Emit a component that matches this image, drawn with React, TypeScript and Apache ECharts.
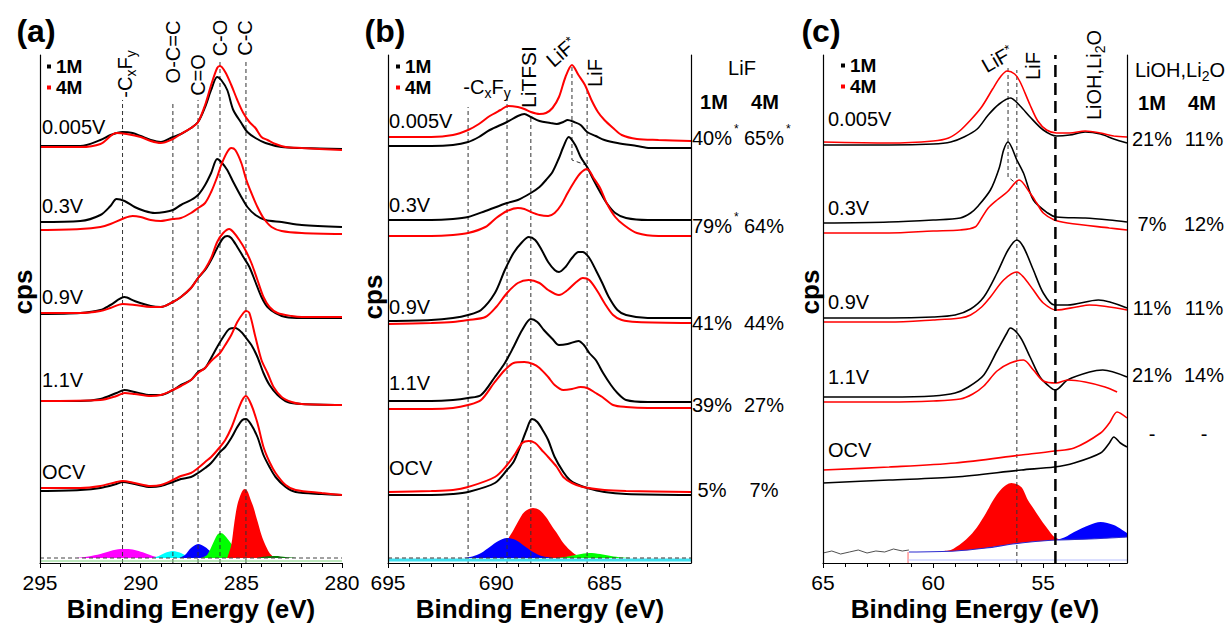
import React, { useEffect, useRef } from 'react';
import * as echarts from 'echarts';

const FONT = "'Liberation Sans', Arial, Helvetica, sans-serif";
type P = [number, number][];

// ---------------- panel (a): C 1s ----------------
const A_MIN = 280, A_MAX = 295;
const A_TICKS = [280, 285, 290, 295];
const A_MINOR = [281, 282, 283, 284, 285, 286, 287, 288, 289, 290, 291, 292, 293, 294];
const A_VOLTS = ['0.005V', '0.3V', '0.9V', '1.1V', 'OCV'];

const A_1M_0005: P = [[295,417],[293,417],[292,423],[291.5,428],[290.9,431],[290.4,430],[290,427],[289.5,423],[289,421],[288.4,426],[288,429],[287.5,435],[287.15,441],[286.8,456],[286.5,473],[286.2,486],[286,483],[285.7,473],[285.4,453],[285,440],[284.7,431],[284.3,425],[283.8,420],[283,416],[282,415],[280,414]];
const A_4M_0005: P = [[295,416],[293,416],[292,419],[291.2,430],[290.7,429],[290,426],[289.5,422],[289,420],[288.4,424],[288,429],[287.5,435],[287.15,441],[286.8,458],[286.5,478],[286.2,495],[286.06,497],[285.8,491],[285.5,478],[285.2,463],[284.9,450],[284.6,441],[284.3,435],[284,426],[283.7,423],[283.3,419],[282.8,416],[282,415],[280,413]];
const A_1M_03: P = [[295,341],[293,342],[292,348],[291.5,357],[291.2,364],[290.8,362],[290.3,356],[289.8,352],[289.3,350],[288.8,351],[288.4,353],[288,358],[287.5,363],[287.15,368],[286.8,378],[286.5,390],[286.2,404],[286,401],[285.7,393],[285.4,381],[285,366],[284.7,356],[284.3,348],[283.8,343],[283,341],[282,338],[280,336]];
const A_4M_03: P = [[295,333],[293,334],[292,336],[291.5,339],[290.8,345],[290.4,347],[290,346],[289.5,343],[289,342],[288.4,344],[288,345],[287.5,350],[287.15,355],[286.8,360],[286.5,371],[286.2,386],[286,398],[285.7,411],[285.5,415],[285.3,413],[285,400],[284.75,383],[284.5,370],[284.2,356],[283.9,345],[283.5,336],[283,332],[282,330],[280,329]];
const A_1M_09: P = [[295,249],[293,250],[292,253],[291.5,258],[290.8,266],[290.3,262],[289.5,257],[289,256],[288.4,261],[288,266],[287.5,275],[287.15,285],[286.8,293],[286.5,303],[286.2,315],[285.9,325],[285.7,327],[285.5,325],[285.2,316],[284.9,306],[284.6,296],[284.3,281],[284,266],[283.7,256],[283.3,250],[282.8,246],[282,245],[280,245]];
const A_4M_09: P = [[295,250],[293,250],[292,252],[291.5,255],[290.9,259],[290.3,258],[289.5,256],[289,256],[288.4,261],[288,266],[287.5,275],[287.15,285],[286.8,294],[286.5,305],[286.2,321],[285.9,330],[285.6,334],[285.4,331],[285.1,323],[284.8,313],[284.5,300],[284.2,283],[283.9,266],[283.6,256],[283.2,250],[282.5,247],[282,246],[280,246]];
const A_1M_11: P = [[295,162],[293,162],[292,164],[291.2,170],[290.8,173],[290.3,171],[289.5,168],[289,168],[288.4,173],[288,178],[287.5,183],[287.15,191],[286.8,195],[286.5,205],[286.2,216],[285.9,226],[285.6,234],[285.3,235],[285,231],[284.8,226],[284.5,218],[284.2,206],[283.9,190],[283.6,178],[283.2,168],[282.7,161],[282,159],[280,158]];
const A_4M_11: P = [[295,162],[292,163],[291.2,167],[290.8,170],[290.3,169],[289.5,167],[289,168],[288.4,173],[288,177],[287.5,183],[287.15,190],[286.8,195],[286.5,202],[286.06,210],[285.8,218],[285.5,228],[285.2,241],[284.9,250],[284.77,252],[284.6,250],[284.3,226],[284,203],[283.7,190],[283.4,176],[283,166],[282.5,161],[282,159],[280,158]];
const A_1M_OCV: P = [[295,72],[293,73],[292,75],[291.2,79],[290.9,81],[290.3,79],[289.5,76],[289,77],[288.4,81],[288,84],[287.5,86],[287.15,90],[286.8,95],[286.5,100],[286.06,111],[285.8,116],[285.5,125],[285.2,136],[284.95,143],[284.77,144],[284.5,138],[284.2,126],[283.9,108],[283.6,96],[283.3,86],[282.8,76],[282.3,71],[281,69],[280,68]];
const A_4M_OCV: P = [[295,75],[293,75],[292,77],[291.2,81],[290.9,82],[290.3,80],[289.5,77],[289,78],[288.4,83],[288,87],[287.5,90],[287.15,95],[286.8,101],[286.5,106],[286.06,116],[285.8,123],[285.5,135],[285.2,151],[284.95,163],[284.77,167],[284.5,158],[284.2,140],[283.9,116],[283.6,101],[283.3,90],[282.8,78],[282.3,73],[281,70],[280,68]];

const A_FIT_CXFY: P = [[293.2,5],[292.6,6.5],[292,9],[291.5,12],[291,14],[290.6,14],[290.2,12.5],[289.8,10],[289.4,7],[289,5.5],[288.6,5]];
const A_FIT_OCC: P = [[289.4,5],[289.1,7],[288.8,10],[288.4,12],[288,10],[287.7,7],[287.3,5]];
const A_FIT_CEO: P = [[288.1,5],[287.8,8],[287.5,15],[287.15,19],[286.8,16],[286.5,11],[286.2,7],[285.9,5]];
const A_FIT_CO: P = [[287,5],[286.7,8],[286.4,20],[286.2,28],[286.06,30],[285.9,29],[285.6,22],[285.3,14],[285,9],[284.6,6],[284.2,5]];
const A_FIT_CC: P = [[285.7,5],[285.5,18],[285.35,40],[285.2,58],[285,70],[284.85,74],[284.7,72],[284.55,64],[284.4,56],[284.2,42],[284,28],[283.85,20],[283.6,10],[283.35,5]];
const A_FIT_X: P = [[284.2,5],[283.8,6.5],[283.3,7],[282.8,6],[282.2,5]];
const A_BASE: P = [[295,5],[280,5]];
const A_LOW: P = [[295,2],[280,2]];
const A_REF_EV = [290.9, 288.4, 287.15, 286.06, 284.77];
const A_REF_TOP = [463, 461, 463, 501, 501];

// ---------------- panel (b): F 1s ----------------
const B_MIN = 681, B_MAX = 695;
const B_TICKS = [685, 690, 695];
const B_MINOR = [682, 683, 684, 685, 686, 687, 688, 689, 690, 691, 692, 693, 694];
const B_1M_0005: P = [[695,417],[693,417],[692,418],[691.3,421],[690.8,426],[690.3,433],[689.5,441],[689,447],[688.7,449],[688.4,446],[688,442],[687.5,440],[687.2,439],[686.9,441],[686.7,443],[686.4,441],[686.1,438],[685.8,431],[685.4,427],[685,423],[684.4,420],[683.5,417],[682.9,415],[681,415]];
const B_4M_0005: P = [[695,426],[693,426],[692,428],[691.3,433],[690.8,439],[690.3,447],[689.8,453],[689.45,457],[689,456],[688.7,454],[688.4,451],[688,449],[687.7,450],[687.4,455],[687.1,466],[686.8,486],[686.5,498],[686.2,488],[685.9,478],[685.6,463],[685.3,451],[685,443],[684.6,435],[684.2,428],[683.5,424],[682.5,423],[681,422]];
const B_1M_03: P = [[695,343],[693,343],[692,344],[691.3,346],[690.5,352],[689.5,360],[689,363],[688.4,370],[688,376],[687.7,383],[687.4,391],[687.1,405],[686.9,416],[686.65,426],[686.35,418],[686.1,406],[685.8,396],[685.5,383],[685.2,371],[684.9,360],[684.5,350],[684,345],[683,343],[681,343]];
const B_4M_03: P = [[695,327],[693,327],[692,328],[691.3,330],[690.5,336],[690,345],[689.5,352],[689,355],[688.7,354],[688.4,351],[688,348],[687.6,347],[687.3,350],[687,358],[686.7,370],[686.4,381],[686.1,390],[685.8,394],[685.5,385],[685.2,375],[684.9,360],[684.5,346],[684.1,338],[683.5,330],[682.5,327],[681,327]];
const B_1M_09: P = [[695,242],[693,243],[692,245],[691.3,248],[690.7,253],[690.06,270],[689.6,293],[689.2,310],[688.8,321],[688.5,326],[688.2,323],[687.9,313],[687.6,301],[687.3,293],[687.1,291],[686.8,296],[686.5,305],[686.2,311],[686,311],[685.7,305],[685.4,293],[685.1,280],[684.8,266],[684.4,253],[684,248],[683,245],[681,245]];
const B_4M_09: P = [[695,239],[693,240],[692,241],[691.3,243],[690.5,246],[690,256],[689.5,270],[689,280],[688.5,283],[688,280],[687.6,273],[687.1,268],[686.7,273],[686.3,281],[686,285],[685.7,283],[685.3,271],[685,260],[684.6,248],[684.2,243],[683.5,241],[681,240]];
const B_1M_11: P = [[695,162],[693,162],[692,163],[691.3,165],[690.7,168],[690.06,186],[689.6,200],[689.2,216],[688.8,233],[688.4,244],[688.1,241],[687.8,233],[687.4,224],[687.1,218],[686.7,219],[686.2,222],[685.95,218],[685.7,210],[685.4,203],[685.06,190],[684.7,178],[684.4,170],[684,163],[683,161],[681,161]];
const B_4M_11: P = [[695,154],[693,154],[692,155],[691.3,158],[690.7,163],[690.1,180],[689.6,193],[689.2,200],[688.7,201],[688.3,199],[688,195],[687.6,186],[687.3,178],[686.9,173],[686.5,174],[686.1,176],[685.8,175],[685.4,170],[685.1,166],[684.6,158],[684,156],[683,155],[681,155]];
const B_1M_OCV: P = [[695,68],[693,68],[692,69],[691.3,71],[690.06,80],[689.5,93],[689.2,101],[688.9,116],[688.6,133],[688.35,144],[688.1,141],[687.8,131],[687.6,123],[687.3,106],[686.9,91],[686.6,83],[686.3,79],[685.8,75],[685,71],[684,69],[681,68]];
const B_4M_OCV: P = [[695,71],[693,72],[692,73],[691.3,76],[690.06,86],[689.5,98],[689.1,110],[688.8,120],[688.5,122],[688.2,120],[687.9,113],[687.6,106],[687.2,96],[686.9,86],[686.5,80],[686,76],[685,73],[684,72],[681,71]];

const B_FIT_CXFY: P = [[691.5,5],[691.1,6.5],[690.7,10],[690.3,16],[689.9,22],[689.5,25],[689.1,23],[688.7,17],[688.3,11],[687.9,7],[687.4,5]];
const B_FIT_LITFSI: P = [[690,5],[689.7,12],[689.45,24],[689.2,33],[689,41],[688.7,51],[688.3,55],[688,53],[687.7,46],[687.4,36],[687.2,30],[686.9,20],[686.6,13],[686.3,8],[686,5]];
const B_FIT_LIF: P = [[687.2,5],[686.7,6.5],[686.2,8.5],[685.7,10],[685.2,9],[684.7,7],[684.2,5.5],[683.7,5]];
const B_BASE: P = [[695,5],[681,5]];
const B_CYAN: P = [[695,3],[681,3]];
const B_REF_EV = [691.3, 689.5, 688.4, 685.8];
const B_REF_TOP = [456, 466, 448, 475];
const B_LIFSTAR: P = [[686.5,496],[686.5,403],[685.85,398]];
const B_PCT_1M = ['40%', '79%', '41%', '39%', '5%'];
const B_PCT_4M = ['65%', '64%', '44%', '27%', '7%'];
const B_STAR_1M = [true, true, false, false, false];
const B_STAR_4M = [true, false, false, false, false];

// ---------------- panel (c): Li 1s ----------------
const C_MIN = 51.2, C_MAX = 65;
const C_TICKS = [55, 60, 65];
const C_MINOR = [52, 53, 54, 55, 56, 57, 58, 59, 60, 61, 62, 63, 64];
const C_1M_0005: P = [[65,418],[62,418],[60,419],[59.2,421],[58.6,426],[58,434],[57.5,448],[57,459],[56.5,465],[56.05,457],[55.6,446],[55,433],[54.4,427],[53.8,428],[53.1,431],[52.4,429],[51.8,424],[51.2,420]];
const C_4M_0005: P = [[65,421],[62,420],[60,422],[59.3,425],[58.8,432],[58.3,443],[57.8,456],[57.3,474],[56.95,486],[56.64,492],[56.3,489],[56.05,481],[55.6,458],[55.25,442],[54.85,433],[54.4,430],[53.8,430],[53.1,432],[52.4,430],[51.8,427],[51.2,426]];
const C_1M_03: P = [[65,340],[62,341],[60,343],[58.77,345],[58.3,350],[58,356],[57.4,373],[57,395],[56.8,413],[56.6,421],[56.2,403],[55.9,390],[55.45,363],[54.8,350],[54.4,346],[53.1,345],[52,343],[51.2,341]];
const C_4M_03: P = [[65,330],[62,330],[60,332],[58.77,333],[58.1,336],[57.8,345],[57.5,355],[57.1,363],[56.64,371],[56.1,383],[55.6,370],[55.3,360],[55,350],[54.5,343],[53.9,340],[52,335],[51.2,333]];
const C_1M_09: P = [[65,245],[62,245],[60,246],[59,248],[58.3,254],[57.7,266],[57.1,290],[56.6,313],[56.2,323],[55.9,316],[55.45,293],[55,270],[54.5,258],[53.9,258],[52.5,263],[51.2,255]];
const C_4M_09: P = [[65,241],[62,241],[60,243],[58.77,245],[58.3,248],[57.8,256],[57.4,266],[56.8,283],[56.2,291],[55.9,286],[55.45,273],[55,260],[54.4,253],[53.5,256],[52.9,258],[51.2,253]];
const C_1M_11: P = [[65,166],[62,166],[60,167],[59,170],[58.4,176],[57.7,188],[57.1,212],[56.65,230],[56.5,235],[56.05,226],[55.6,206],[55.15,186],[54.7,176],[54.45,173],[53.9,183],[52.9,191],[52.3,193],[51.2,186]];
const C_4M_11: P = [[65,161],[62,161],[60,162],[58.77,164],[58.2,169],[57.7,177],[57.1,192],[56.5,200],[55.9,203],[55.45,193],[55,182],[54.4,180],[53.9,183],[53.1,181],[52.2,176],[51.65,171]];
const C_1M_OCV: P = [[65,80],[62,83],[59,86],[56,93],[54.5,96],[53.6,100],[52.4,110],[52,120],[51.8,126],[51.5,120],[51.2,116]];
const C_4M_OCV: P = [[65,93],[62,96],[59,100],[56,108],[54.5,112],[53.6,115],[52.4,130],[52,140],[51.65,151],[51.2,145]];

const C_FIT_LIF: P = [[59.6,12],[59.2,13],[58.7,20],[58.3,28],[58,36],[57.6,50],[57.27,63],[56.9,74],[56.45,80],[56,76],[55.7,63],[55.4,53],[55.1,43],[54.8,34],[54.5,26],[54.2,23]];
const C_FIT_LIOH: P = [[54.4,23],[54,26],[53.6,31],[52.9,38],[52.4,41],[51.8,38],[51.2,30]];
const C_BG: P = [[61.1,11],[59,12],[57.6,15],[56.4,19],[55.6,21],[54.4,23],[52.9,24],[51.2,26]];
const C_RAW: P = [[65,10],[64.6,12],[64.2,9],[63.8,11],[63.4,13],[63,10],[62.6,12],[62.2,11],[61.8,14],[61.4,12],[61.1,13]];
const C_EDGE: P = [[61.14,0],[61.14,11]];
const C_LOW: P = [[61.14,3],[51.2,3]];
const C_LIF_EV = 56.2, C_LIF_TOP = 493;
const C_LIOH_EV = 54.45, C_LIOH_TOP = 508;
const C_LIFSTAR: P = [[56.6,495],[56.6,386],[56.2,379]];
const C_PCT_1M = ['21%', '7%', '11%', '21%', '-'];
const C_PCT_4M = ['11%', '12%', '11%', '14%', '-'];

const ROW_Y_B = [138, 226, 323, 405, 490];
const ROW_Y_C = [139, 224, 308, 375, 434];

function curve(name: string, data: P, color: string, xi: number, yi: number, width = 2): any {
  return { type: 'line', name, data, xAxisIndex: xi, yAxisIndex: yi, smooth: 0.3, symbol: 'none', silent: true, z: 4,
    lineStyle: { color, width }, itemStyle: { color } };
}
function fill(data: P, color: string, xi: number, yi: number, z = 2): any {
  return { type: 'line', data, xAxisIndex: xi, yAxisIndex: yi, smooth: 0.3, symbol: 'none', silent: true, z,
    lineStyle: { width: 0, color }, areaStyle: { color, opacity: 1 } };
}
function plain(data: P, color: string, xi: number, yi: number, width: number, type: any = 'solid', z = 5, smooth: any = false): any {
  return { type: 'line', data, xAxisIndex: xi, yAxisIndex: yi, smooth, symbol: 'none', silent: true, z, clip: false,
    lineStyle: { color, width, type } };
}

function buildSeries() {
  const s: any[] = [];
  // (a)
  s.push(fill(A_FIT_CXFY, '#ff00ff', 0, 0));
  s.push(fill(A_FIT_OCC, '#00ffff', 0, 0));
  s.push(fill(A_FIT_CEO, '#0000ff', 0, 0));
  s.push(fill(A_FIT_CO, '#00ff00', 0, 0));
  s.push(fill(A_FIT_CC, '#ff0000', 0, 0));
  s.push(fill(A_FIT_X, '#008000', 0, 0));
  s.push(fill(A_BASE, '#ffffff', 0, 0, 3));
  s.push(plain(A_BASE, '#444', 0, 0, 1, [4, 3], 5));
  s.push(plain(A_LOW, '#7ccf7c', 0, 0, 1.2, 'solid', 5));
  A_REF_EV.forEach((ev, i) => s.push(plain([[ev, 0], [ev, A_REF_TOP[i]]], '#333', 0, 0, 1, [4, 3], 3)));
  [A_1M_0005, A_1M_03, A_1M_09, A_1M_11, A_1M_OCV].forEach(d => s.push(curve('1M', d, '#000', 0, 0)));
  [A_4M_0005, A_4M_03, A_4M_09, A_4M_11, A_4M_OCV].forEach(d => s.push(curve('4M', d, '#ff0000', 0, 0)));
  // (b)
  s.push(fill(B_FIT_LITFSI, '#ff0000', 2, 1));
  s.push(fill(B_FIT_CXFY, '#0000ff', 2, 1));
  s.push(fill(B_FIT_LIF, '#00ff00', 2, 1));
  s.push(fill(B_BASE, '#ffffff', 2, 1, 3));
  s.push(plain(B_CYAN, '#40e0f0', 2, 1, 3, 'solid', 5));
  s.push(plain(B_BASE, '#333', 2, 1, 1, [4, 3], 5));
  B_REF_EV.forEach((ev, i) => s.push(plain([[ev, 0], [ev, B_REF_TOP[i]]], '#333', 2, 1, 1, [4, 3], 3)));
  s.push(plain(B_LIFSTAR, '#333', 2, 1, 1, [4, 3], 3));
  [B_1M_0005, B_1M_03, B_1M_09, B_1M_11, B_1M_OCV].forEach(d => s.push(curve('1M', d, '#000', 2, 1)));
  [B_4M_0005, B_4M_03, B_4M_09, B_4M_11, B_4M_OCV].forEach(d => s.push(curve('4M', d, '#ff0000', 2, 1)));
  // (c)
  s.push(fill(C_FIT_LIF, '#ff0000', 4, 3));
  s.push(fill(C_FIT_LIOH, '#0000ff', 4, 3));
  s.push(fill(C_BG, '#ffffff', 4, 3, 3));
  s.push(plain(C_BG, '#2a2ad0', 4, 3, 1.2, 'solid', 5, 0.3));
  s.push(plain(C_RAW, '#222', 4, 3, 0.8, 'solid', 5));
  s.push(plain(C_EDGE, '#ff6060', 4, 3, 1, 'solid', 5));
  s.push(plain(C_LOW, '#b8c0ff', 4, 3, 1.2, 'solid', 5));
  s.push(plain([[C_LIF_EV, 0], [C_LIF_EV, C_LIF_TOP]], '#333', 4, 3, 1, [4, 3], 3));
  s.push(plain(C_LIFSTAR, '#333', 4, 3, 1, [4, 3], 3));
  s.push(plain([[C_LIOH_EV, 0], [C_LIOH_EV, C_LIOH_TOP]], '#000', 4, 3, 2.5, [12, 6], 6));
  [C_1M_0005, C_1M_03, C_1M_09, C_1M_11, C_1M_OCV].forEach(d => s.push(curve('1M', d, '#000', 4, 3, 1.6)));
  [C_4M_0005, C_4M_03, C_4M_09, C_4M_11, C_4M_OCV].forEach(d => s.push(curve('4M', d, '#ff0000', 4, 3, 1.6)));
  return s;
}

const RICH = {
  n: { fontSize: 20, fontFamily: FONT, verticalAlign: 'top', lineHeight: 22, fill: '#000' },
  s: { fontSize: 14, fontFamily: FONT, verticalAlign: 'top', lineHeight: 16, padding: [9, 0, 0, 0], fill: '#000' },
  p: { fontSize: 13, fontFamily: FONT, verticalAlign: 'top', lineHeight: 14, fill: '#000' },
};

function T(x: number, y: number, text: string, o: any = {}): any {
  return {
    type: 'text', x, y, rotation: o.rot || 0, silent: true, z: 50,
    style: {
      text, fill: '#000', fontFamily: FONT, fontSize: o.size || 20, fontWeight: o.bold ? 'bold' : 'normal',
      align: o.align || 'left', verticalAlign: 'middle', rich: o.rich ? RICH : undefined,
    },
  };
}

function buildGraphic() {
  const g: any[] = [];
  const R = Math.PI / 2;
  // panel letters
  g.push(T(36, 31, '(a)', { bold: true, size: 32, align: 'center' }));
  g.push(T(385, 31, '(b)', { bold: true, size: 32, align: 'center' }));
  g.push(T(821, 31, '(c)', { bold: true, size: 32, align: 'center' }));
  // axis titles
  [191, 540, 975].forEach(x => g.push(T(x, 609, 'Binding Energy (eV)', { bold: true, size: 26, align: 'center' })));
  g.push(T(23, 292, 'cps', { bold: true, size: 26, align: 'center', rot: R }));
  g.push(T(373, 297, 'cps', { bold: true, size: 26, align: 'center', rot: R }));
  g.push(T(810, 292, 'cps', { bold: true, size: 26, align: 'center', rot: R }));
  // voltage labels
  const aY = [127, 206, 297, 380, 472];
  const bY = [121, 205, 307, 383, 468];
  const cY = [119, 208, 302, 377, 450];
  A_VOLTS.forEach((v, i) => {
    g.push(T(42, aY[i], v));
    g.push(T(389, bY[i], v));
    g.push(T(828, cY[i], v));
  });
  // (a) peak labels
  g.push(T(126, 74, '{n|-C}{s|x}{n|F}{s|y}', { rot: R, align: 'center', rich: true }));
  g.push(T(173, 52, 'O-C=C', { rot: R, align: 'center' }));
  g.push(T(198, 75, 'C=O', { rot: R, align: 'center' }));
  g.push(T(220, 38, 'C-O', { rot: R, align: 'center' }));
  g.push(T(245, 38, 'C-C', { rot: R, align: 'center' }));
  // (b) peak labels
  g.push(T(487, 88, '{n|-C}{s|x}{n|F}{s|y}', { align: 'center', rich: true }));
  g.push(T(528, 77, 'LiTFSI', { rot: R, align: 'center', size: 21 }));
  g.push(T(562, 53, '{n|LiF}{p|*}', { rot: 0.72, align: 'center', rich: true }));
  g.push(T(595, 73, 'LiF', { rot: R, align: 'center' }));
  // (b) table
  g.push(T(742, 68, 'LiF', { align: 'center' }));
  g.push(T(714, 102, '1M', { bold: true, align: 'center' }));
  g.push(T(765, 102, '4M', { bold: true, align: 'center' }));
  ROW_Y_B.forEach((y, i) => {
    g.push(T(712, y, B_PCT_1M[i], { align: 'center' }));
    g.push(T(764, y, B_PCT_4M[i], { align: 'center' }));
    if (B_STAR_1M[i]) g.push(T(734, y - 9, '*', { size: 12 }));
    if (B_STAR_4M[i]) g.push(T(786, y - 9, '*', { size: 12 }));
  });
  // (c) peak labels
  g.push(T(998, 60, '{n|LiF}{p|*}', { rot: 0.52, align: 'center', rich: true }));
  g.push(T(1033, 66, 'LiF', { rot: R, align: 'center' }));
  g.push(T(1095, 75, '{n|LiOH,Li}{s|2}{n|O}', { rot: R, align: 'center', rich: true }));
  // (c) table
  g.push(T(1180, 71, '{n|LiOH,Li}{s|2}{n|O}', { align: 'center', rich: true }));
  g.push(T(1152, 103, '1M', { bold: true, align: 'center' }));
  g.push(T(1202, 103, '4M', { bold: true, align: 'center' }));
  ROW_Y_C.forEach((y, i) => {
    g.push(T(1152, y, C_PCT_1M[i], { align: 'center' }));
    g.push(T(1204, y, C_PCT_4M[i], { align: 'center' }));
  });
  return g;
}

function xMain(gi: number, min: number, max: number, ticks: number[]): any {
  return {
    type: 'value', gridIndex: gi, min, max, inverse: true, position: 'bottom', z: 10,
    axisLine: { show: true, onZero: false, lineStyle: { color: '#000', width: 1.2 } },
    axisTick: { show: true, inside: false, length: 5, customValues: ticks, lineStyle: { color: '#000', width: 1 } },
    axisLabel: { show: true, customValues: ticks, fontSize: 21, color: '#000', fontFamily: FONT, margin: 9 },
    splitLine: { show: false },
  };
}
function xMinor(gi: number, min: number, max: number, ticks: number[]): any {
  return {
    type: 'value', gridIndex: gi, min, max, inverse: true, position: 'bottom', z: 10,
    axisLine: { show: false, onZero: false },
    axisTick: { show: true, inside: false, length: 4, customValues: ticks, lineStyle: { color: '#000', width: 1 } },
    axisLabel: { show: false }, splitLine: { show: false },
  };
}
function yAx(gi: number, pos: string): any {
  return {
    type: 'value', gridIndex: gi, min: 0, max: 508, position: pos, z: 10,
    axisLine: { show: true, onZero: false, lineStyle: { color: '#000', width: 1.2 } },
    axisTick: { show: false }, axisLabel: { show: false }, splitLine: { show: false },
  };
}

function legendAt(left: number, top: number): any {
  return {
    data: ['1M', '4M'], left, top, orient: 'vertical', icon: 'rect', itemWidth: 4, itemHeight: 4, itemGap: 2,
    padding: 0, selectedMode: false,
    textStyle: { fontSize: 19, fontWeight: 'bold', color: '#000', fontFamily: FONT },
  };
}

export default function App() {
  const ref = useRef<HTMLDivElement>(null);
  useEffect(() => {
    if (!ref.current) return;
    const chart = echarts.init(ref.current, undefined, { renderer: 'svg' });
    chart.setOption({
      animation: false,
      backgroundColor: '#fff',
      grid: [
        { left: 40, top: 55, width: 302, height: 508 },
        { left: 388, top: 55, width: 303, height: 508 },
        { left: 823, top: 55, width: 304, height: 508 },
      ],
      xAxis: [
        xMain(0, A_MIN, A_MAX, A_TICKS), xMinor(0, A_MIN, A_MAX, A_MINOR),
        xMain(1, B_MIN, B_MAX, B_TICKS), xMinor(1, B_MIN, B_MAX, B_MINOR),
        xMain(2, C_MIN, C_MAX, C_TICKS), xMinor(2, C_MIN, C_MAX, C_MINOR),
      ],
      yAxis: [yAx(0, 'left'), yAx(1, 'left'), yAx(1, 'right'), yAx(2, 'left'), yAx(2, 'right')],
      legend: [legendAt(47, 57), legendAt(396, 57), legendAt(841, 56)],
      series: buildSeries(),
      graphic: { elements: buildGraphic() },
    });
    return () => chart.dispose();
  }, []);
  return <div ref={ref} style={{ position: 'absolute', left: 0, top: 0, width: 1230, height: 624 }} />;
}
